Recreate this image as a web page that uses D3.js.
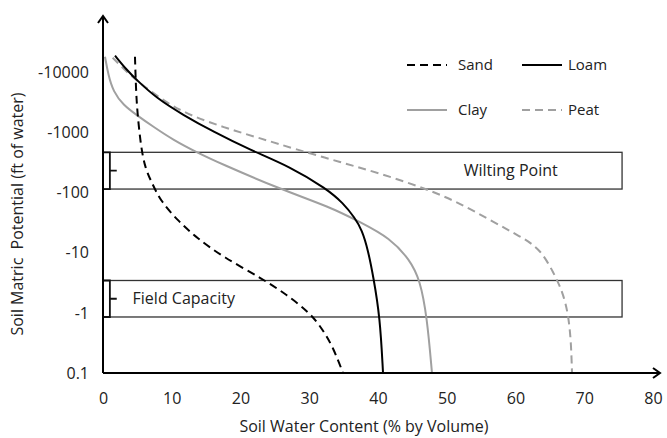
<!DOCTYPE html>
<html>
<head>
<meta charset="utf-8">
<script src="https://cdn.jsdelivr.net/npm/d3@7"></script>
<style>
  body { margin: 0; background: #fff; }
  text { font-family: "Open Sans", "Noto Sans", sans-serif; fill: #222; }
</style>
</head>
<body>
<svg id="chart"></svg>
<script>
// water retention curves
// water content (% by volume) and matching suction (ft of water)
var sandWater = [4.65, 4.80, 4.99, 5.48, 6.11, 7.13, 8.29, 10.76, 13.67, 17.45, 23.27, 26.76, 30.11, 32.0, 33.45, 34.91];
var sandSuction = [18300, 5120, 2230, 622, 258, 145, 75.6, 35.2, 17.6, 8.51, 3.66, 1.99, 1.0, 0.52, 0.27, 0.1];

var loamWater = [1.75, 3.45, 4.90, 7.81, 11.68, 16.04, 21.38, 27.2, 32.58, 34.91, 36.65, 37.67, 38.55, 39.32, 40.29, 40.73];
var loamSuction = [19050, 11010, 7500, 3720, 1960, 1035, 514, 271, 115, 67.4, 37.9, 23.9, 11.1, 4.0, 0.855, 0.1];

var clayWater = [0.29, 0.77, 1.50, 2.95, 4.90, 7.32, 10.23, 13.63, 17.02, 25.75, 33.02, 37.38, 41.75, 44.65, 46.11, 47.13, 47.85];
var claySuction = [18300, 9080, 4800, 2880, 1960, 1250, 753, 470, 308, 115, 57.8, 32.5, 17.6, 7.59, 3.53, 0.855, 0.1];

var peatWater = [1.41, 2.47, 4.41, 9.27, 13.13, 17.99, 22.84, 27.93, 34.47, 40.29, 47.08, 51.45, 56.29, 61.09, 62.4, 63.56, 64.58, 65.45, 66.18, 66.91, 67.64, 68.07, 68.22];
var peatSuction = [17600, 13300, 8000, 3070, 1840, 1180, 804, 533, 324, 210, 115, 70.8, 35.2, 17.6, 14.0, 10.7, 7.31, 4.80, 3.27, 2.06, 1.0, 0.354, 0.1];

var xTicks = [0, 10, 20, 30, 40, 50, 60, 70, 80];
var yTicks = [0.1, 1, 10, 100, 1000, 10000];
var yTickLabels = ['0.1', '-1', '-10', '-100', '-1000', '-10000'];

// boxed ranges: name, top suction, bottom suction
var bandNames = ['Wilting Point', 'Field Capacity'];
var bandTop = [470, 3.46];
var bandBottom = [115, 0.855];
var bandRight = 75.5;

var width = 667,
    height = 438;

var x = d3.scaleLinear().domain([0, 80]).range([103, 653]);
var y = d3.scaleLog().domain([0.1, 10000]).range([373, 72.5]);

var svg = d3.select('#chart')
  .attr('width', width)
  .attr('height', height);

/**
 * Bands
 */
bandNames.forEach(function (name, i) {
  var top = y(bandTop[i]),
      bottom = y(bandBottom[i]);
  svg.append('rect')
    .attr('x', x(0))
    .attr('y', top)
    .attr('width', x(bandRight) - x(0))
    .attr('height', bottom - top)
    .attr('fill', 'none')
    .attr('stroke', '#333')
    .attr('stroke-width', 1.3);

  // bracket at the left end
  var bx = x(1), tip = x(2), mid = (top + bottom) / 2;
  svg.append('path')
    .attr('d', 'M' + x(0) + ',' + top + 'H' + bx + 'V' + bottom + 'H' + x(0) +
               'M' + bx + ',' + mid + 'H' + tip)
    .attr('fill', 'none')
    .attr('stroke', '#111')
    .attr('stroke-width', 1.8);
});

svg.append('text')
  .attr('x', x(59.3))
  .attr('y', (y(bandTop[0]) + y(bandBottom[0])) / 2)
  .attr('dy', '0.35em')
  .attr('text-anchor', 'middle')
  .style('font-size', '16px')
  .text(bandNames[0]);

svg.append('text')
  .attr('x', x(4.3))
  .attr('y', (y(bandTop[1]) + y(bandBottom[1])) / 2)
  .attr('dy', '0.35em')
  .style('font-size', '16px')
  .text(bandNames[1]);

/**
 * Curves
 */
var series = [
  { name: 'Sand', water: sandWater, suction: sandSuction, color: '#000', dash: '8,5' },
  { name: 'Loam', water: loamWater, suction: loamSuction, color: '#000', dash: null },
  { name: 'Clay', water: clayWater, suction: claySuction, color: '#a0a0a0', dash: null },
  { name: 'Peat', water: peatWater, suction: peatSuction, color: '#a0a0a0', dash: '8,5' }
];

var line = d3.line()
  .x(function (d) { return x(d[0]); })
  .y(function (d) { return y(d[1]); })
  .curve(d3.curveBasis);

// gray ones first so black sits on top
[3, 2, 1, 0].forEach(function (i) {
  var s = series[i];
  svg.append('path')
    .datum(d3.zip(s.water, s.suction))
    .attr('d', line)
    .attr('fill', 'none')
    .attr('stroke', s.color)
    .attr('stroke-width', 2)
    .attr('stroke-dasharray', s.dash);
});

/**
 * Legend
 */
var legendX = [407, 522],
    legendY = [65, 110];
series.forEach(function (s, i) {
  var lx = legendX[i % 2], ly = legendY[Math.floor(i / 2)];
  svg.append('line')
    .attr('x1', lx).attr('x2', lx + 40)
    .attr('y1', ly).attr('y2', ly)
    .attr('stroke', s.color)
    .attr('stroke-width', 2)
    .attr('stroke-dasharray', s.dash);
  svg.append('text')
    .attr('x', lx + (i % 2 ? 46 : 51))
    .attr('y', ly)
    .attr('dy', '0.35em')
    .style('font-size', '15px')
    .text(s.name);
});

/**
 * Axes
 */
var xAxis = svg.append('g')
  .attr('transform', 'translate(0,' + y(0.1) + ')')
  .call(d3.axisBottom(x).tickValues(xTicks).tickSize(0).tickPadding(20));

var yAxis = svg.append('g')
  .attr('transform', 'translate(' + x(0) + ',0)')
  .call(d3.axisLeft(y).tickValues(yTicks).tickSize(0).tickPadding(14)
    .tickFormat(function (d, i) { return yTickLabels[i]; }));

[xAxis, yAxis].forEach(function (g) {
  g.select('.domain').remove();
  g.selectAll('text')
    .style('font-family', '"Open Sans", "Noto Sans", sans-serif')
    .style('font-size', '16px')
    .attr('fill', '#222');
});

// axis lines with open arrow heads
var ox = x(0), oy = y(0.1);
svg.append('path')
  .attr('d', 'M' + ox + ',' + oy + 'H660 M653,' + (oy - 5) + 'L660,' + oy + 'L653,' + (oy + 5) +
             'M' + ox + ',' + oy + 'V16 M' + (ox - 5) + ',23L' + ox + ',16L' + (ox + 5) + ',23')
  .attr('fill', 'none')
  .attr('stroke', '#000')
  .attr('stroke-width', 2);

svg.append('text')
  .attr('x', 364)
  .attr('y', 426)
  .attr('dy', '0.35em')
  .attr('text-anchor', 'middle')
  .style('font-size', '16px')
  .text('Soil Water Content (% by Volume)');

svg.append('text')
  .attr('transform', 'translate(17,214) rotate(-90)')
  .attr('dy', '0.35em')
  .attr('text-anchor', 'middle')
  .style('font-size', '16px')
  .style('white-space', 'pre')
  .text('Soil Matric  Potential (ft of water)');
</script>
</body>
</html>
